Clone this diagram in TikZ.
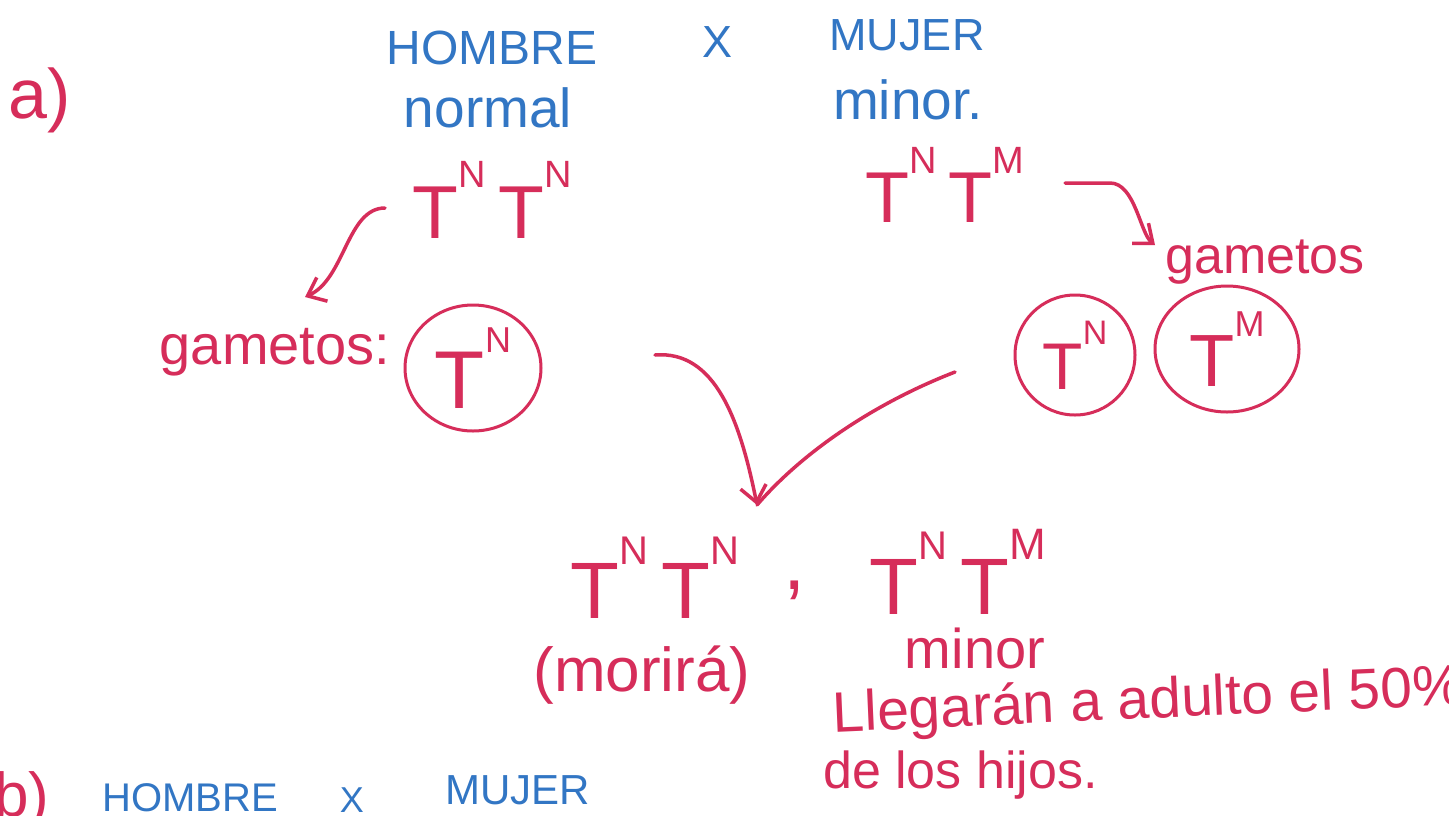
\documentclass[tikz,border=0pt]{standalone}
\usepackage{fontspec}
\setmainfont{Liberation Sans}
\usetikzlibrary{arrows.meta,shapes.geometric}
\definecolor{pen}{RGB}{214,45,90}
\definecolor{ink}{RGB}{50,118,196}
\newcommand\fs[1]{\fontsize{#1}{#1}\selectfont}
\newcommand\Tsup[2]{T\raisebox{0.68em}{\fs{#2}#1}}
\begin{document}
\begin{tikzpicture}[x=1pt,y=-1pt,
  redtxt/.style={text=pen,inner sep=0pt,anchor=center},
  bluetxt/.style={text=ink,inner sep=0pt,anchor=center},
  arr/.style={draw=pen,line width=3.5pt,line cap=round,-{Straight Barb[length=16pt,width=26pt,line width=3.5pt]}},
  stroke/.style={draw=pen,line width=3.5pt,line cap=round},
  gamete/.style={draw=pen,line width=3pt,ellipse,inner sep=0pt,text=pen}]
\useasboundingbox (0,0) rectangle (1449,815);
\clip (0,0) rectangle (1449,815);
\fill[white] (0,0) rectangle (1449,815);

% part a
\node[redtxt] (la) at (40,100) {\fs{70}a)};
\node[bluetxt] (hom) at (492,48) {\fs{48}HOMBRE};
\node[bluetxt] (nor) at (488,108) {\fs{55}normal};
\node[bluetxt] (x1) at (718,42) {\fs{45}X};
\node[bluetxt] (muj) at (907,35) {\fs{45}MUJER};
\node[bluetxt] (min1) at (908,100) {\fs{55}minor.};

\node[redtxt] (tt1) at (492,200) {\fs{75}\Tsup{N}{38}\,\Tsup{N}{38}};
\node[redtxt] (tt2) at (945,185) {\fs{72}\Tsup{N}{38}\,\Tsup{M}{38}};

\node[redtxt] (gam1) at (275,352) {\fs{56}gametos:};
\node[redtxt] (gam2) at (1265,262) {\fs{52}gametos};

\node[gamete,minimum width=136,minimum height=126] (g1) at (473,368) {\fs{82}\Tsup{N}{36}};
\node[gamete,minimum width=120,minimum height=120] (g2) at (1075,355) {\fs{66}\Tsup{N}{34}};
\node[gamete,minimum width=144,minimum height=126] (g3) at (1227,349) {\fs{74}\Tsup{M}{36}};

\draw[arr] ([shift={(-107,8)}]tt1.center) .. controls +(-38,0) and +(40,-18) .. ([shift={(30,-55)}]gam1.center);
\draw[arr] ([shift={(120,-2)}]tt2.center) -- +(45,0) .. controls +(25,0) and +(-15,-12) .. ([shift={(-110,-17)}]gam2.center);

\coordinate (s1) at (655,355);
\coordinate (s2) at (955,372);
\coordinate (meet) at (757,505);
\draw[arr] (s1) .. controls (715,350) and (740,420) .. (meet);
\draw[stroke] (s2) .. controls (870,405) and (800,455) .. (meet);

\node[redtxt] (off1) at (655,578) {\fs{80}\Tsup{N}{40}\,\Tsup{N}{40}};
\node[redtxt] (comma) at (795,590) {\fs{80},};
\node[redtxt] (off2) at (958,572) {\fs{80}\Tsup{N}{40}\,\Tsup{M}{44}};
\node[redtxt] (mor) at (642,675) {\fs{62}(morirá)};
\node[redtxt] (min2) at (975,648) {\fs{56}minor};
\node[redtxt,anchor=west,rotate=2.5] (lleg) at (833,717) {\fs{57}Llegarán a adulto el 50\%};
\node[redtxt,anchor=west] (hij) at (823,775) {\fs{52}de los hijos.};

% part b
\node[redtxt] (lb) at (22,800) {\fs{62}b)};
\node[bluetxt] (hom2) at (190,798) {\fs{40}HOMBRE};
\node[bluetxt] (x2) at (352,800) {\fs{36}X};
\node[bluetxt] (muj2) at (518,790) {\fs{42}MUJER};
\end{tikzpicture}
\end{document}
